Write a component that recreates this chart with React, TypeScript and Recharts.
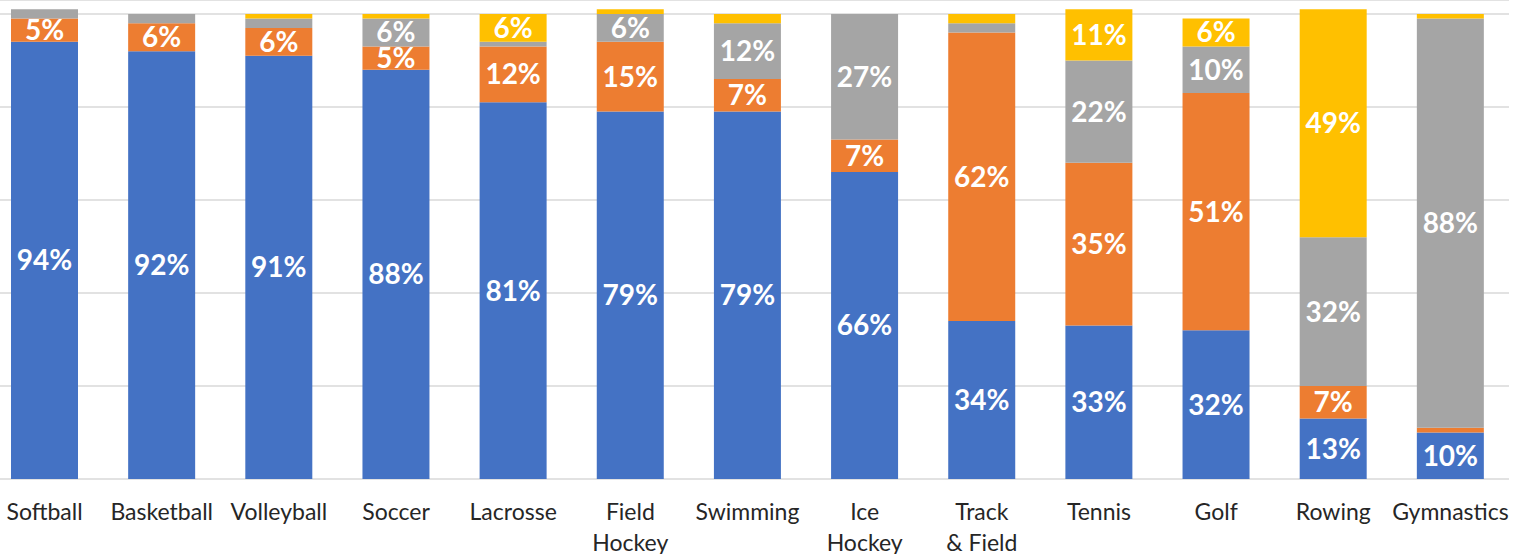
import React from 'react';
import { BarChart, Bar, XAxis, YAxis, CartesianGrid, LabelList } from 'recharts';

const categories = [
  'Softball', 'Basketball', 'Volleyball', 'Soccer', 'Lacrosse', 'Field\nHockey', 'Swimming',
  'Ice\nHockey', 'Track\n& Field', 'Tennis', 'Golf', 'Rowing', 'Gymnastics',
];

// stacked shares, bottom to top
const blueValues = [94, 92, 91, 88, 81, 79, 79, 66, 34, 33, 32, 13, 10];
const orangeValues = [5, 6, 6, 5, 12, 15, 7, 7, 62, 35, 51, 7, 1];
const grayValues = [2, 2, 2, 6, 1, 6, 12, 27, 2, 22, 10, 32, 88];
const yellowValues = [0, 0, 1, 1, 6, 1, 2, 0, 2, 11, 6, 49, 1];

const gridTicks = [0, 20, 40, 60, 80, 100];

const data = categories.map((name, i) => ({
  name,
  blue: blueValues[i],
  orange: orangeValues[i],
  gray: grayValues[i],
  yellow: yellowValues[i],
}));

const series = [
  { key: 'blue', color: '#4472C4' },
  { key: 'orange', color: '#ED7D31' },
  { key: 'gray', color: '#A5A5A5' },
  { key: 'yellow', color: '#FFC000' },
];

const CategoryTick = (props: any) => {
  const { x, y, payload } = props;
  const lines = String(payload.value).split('\n');
  return (
    <text x={x} y={y} textAnchor="middle" fill="#262626" fontSize={23} fontFamily="Lato, sans-serif">
      {lines.map((line, i) => (
        <tspan key={i} x={x} dy={i === 0 ? 41 : 31}>{line}</tspan>
      ))}
    </text>
  );
};

const showPct = (v: any) => (Number(v) >= 5 ? `${v}%` : '');

export default function App() {
  return (
    <div style={{ position: 'absolute', left: -14, top: 0, background: '#fff' }}>
      <BarChart
        width={1523}
        height={554}
        data={data}
        margin={{ top: 0, right: 0, left: 0, bottom: 0 }}
        barSize={67}
      >
        <CartesianGrid vertical={false} stroke="#D9D9D9" strokeWidth={1.5} />
        <YAxis hide domain={[0, 103]} ticks={gridTicks} />
        <XAxis
          dataKey="name"
          interval={0}
          axisLine={false}
          tickLine={false}
          tickSize={0}
          tickMargin={0}
          height={75}
          tick={<CategoryTick />}
        />
        {series.map((s) => (
          <Bar key={s.key} dataKey={s.key} stackId="a" fill={s.color} isAnimationActive={false}>
            <LabelList
              dataKey={s.key}
              position="center"
              formatter={showPct}
              fill="#FFFFFF"
              fontSize={28}
              fontWeight="bold"
              fontFamily="Lato, sans-serif"
            />
          </Bar>
        ))}
      </BarChart>
    </div>
  );
}
